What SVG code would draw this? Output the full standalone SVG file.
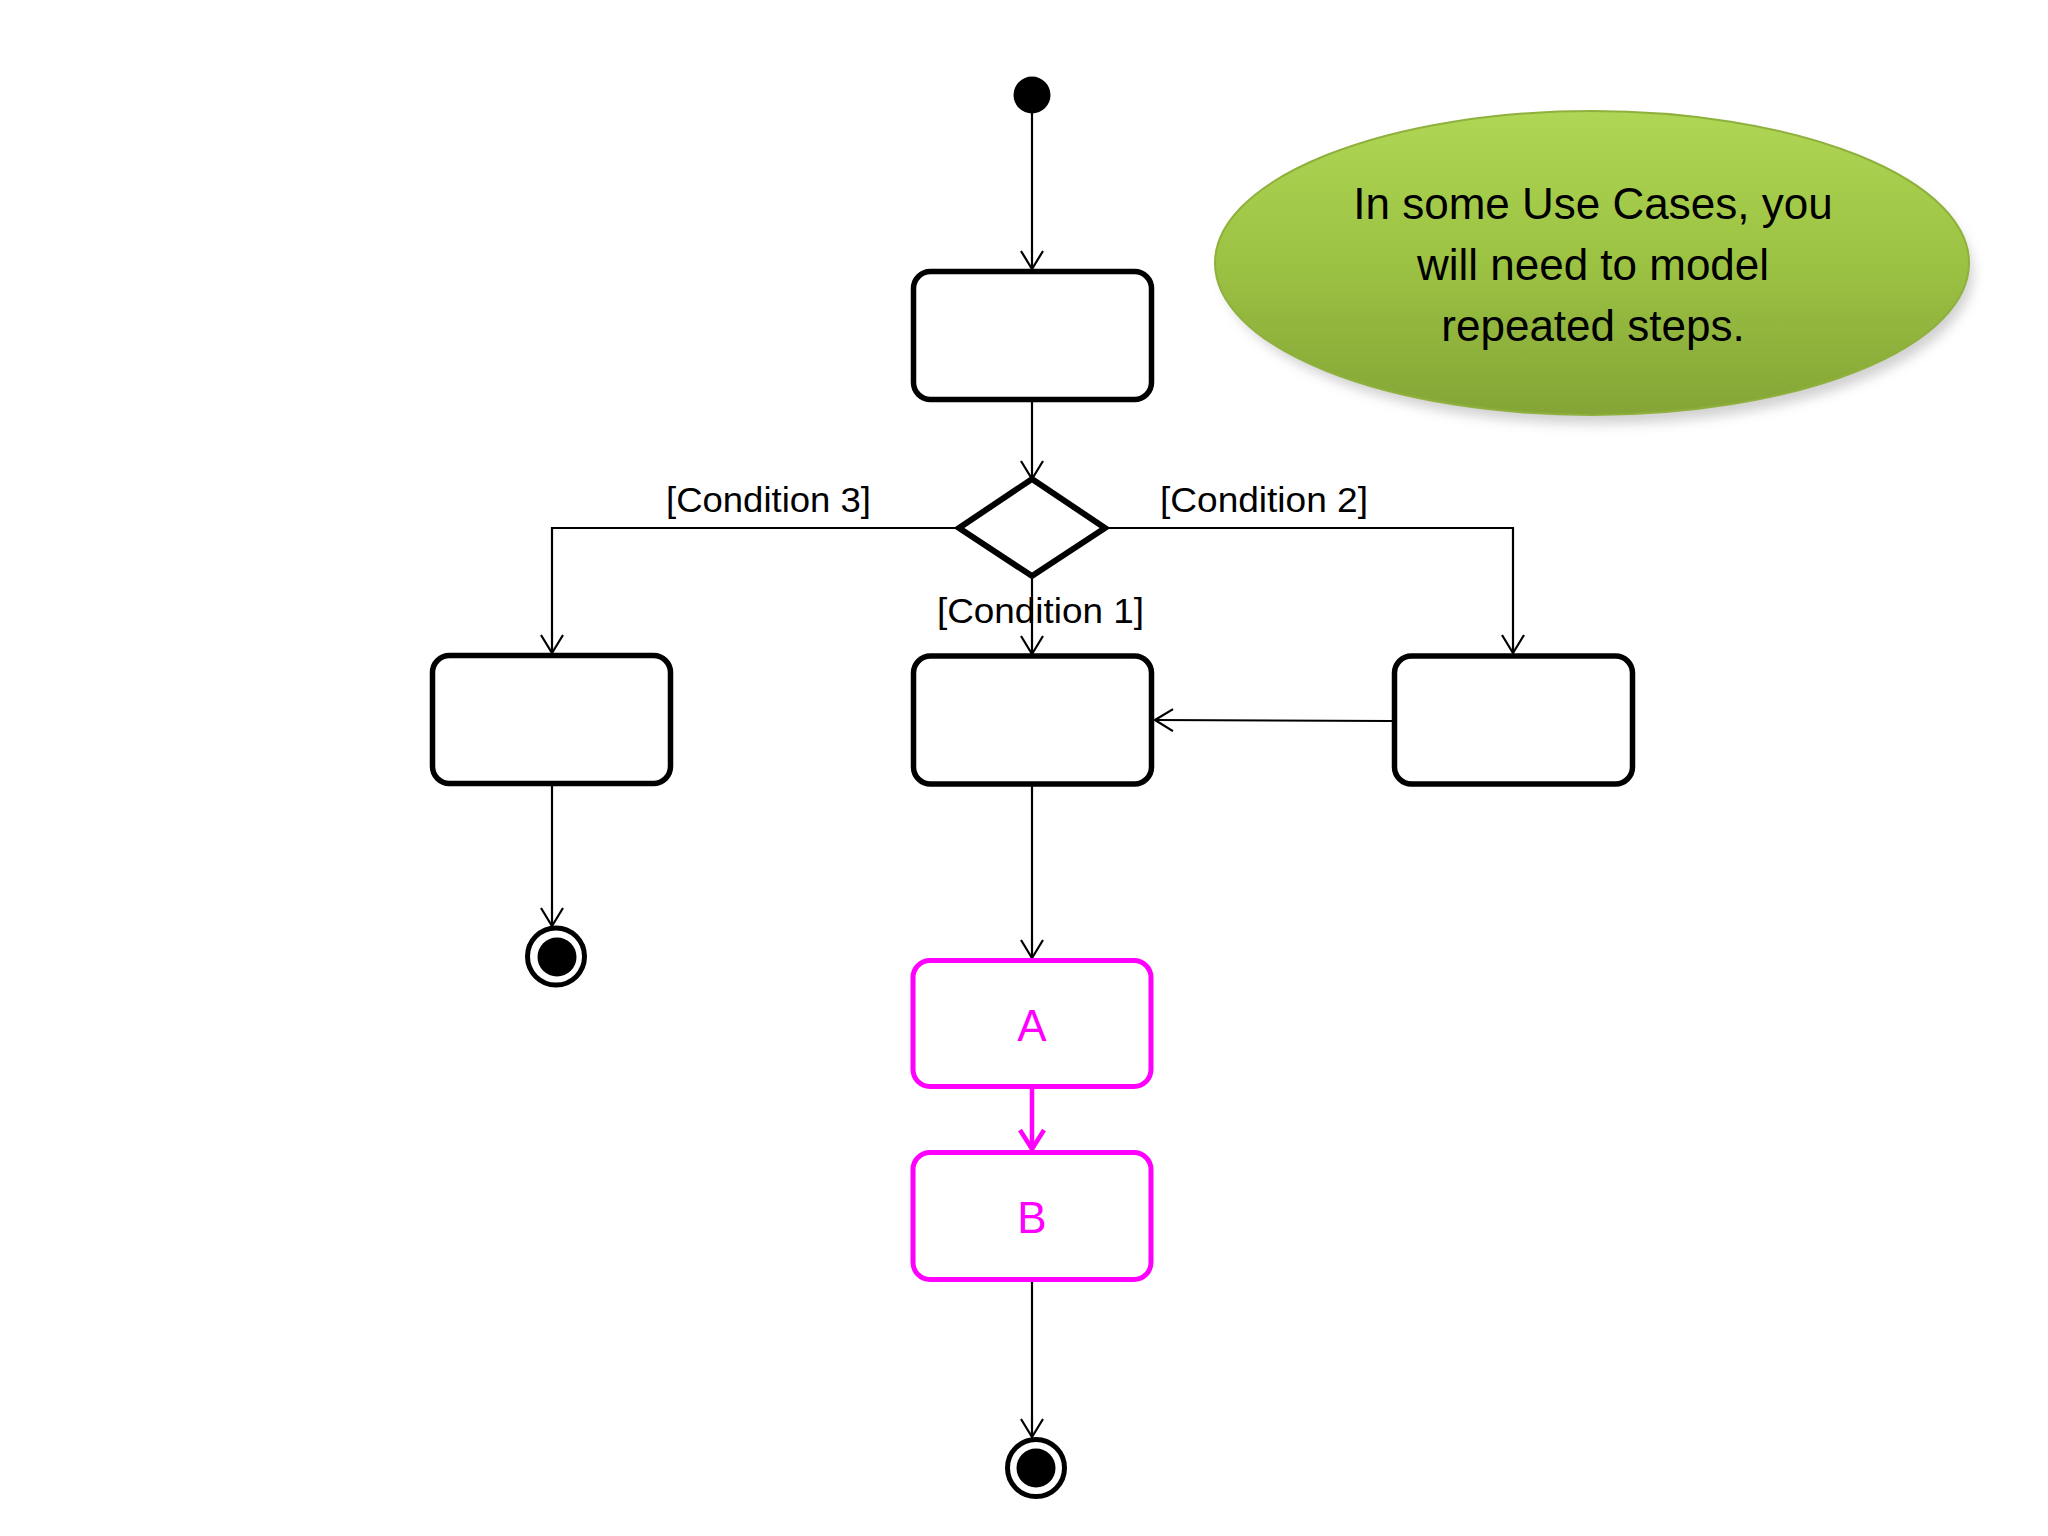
<svg xmlns="http://www.w3.org/2000/svg" width="2048" height="1536" viewBox="0 0 2048 1536">
  <style>
    .box { fill: #ffffff; stroke: #000000; stroke-width: 5.5; }
    .mbox { fill: #ffffff; stroke: #ff00ff; stroke-width: 5; }
    .edge { fill: none; stroke: #000000; stroke-width: 2.2; }
    .medge { fill: none; stroke: #ff00ff; stroke-width: 4.5; }
    .lbl { font-family: "Liberation Sans", Arial, sans-serif; font-size: 35px; fill: #000000; }
    .mlbl { font-family: "Liberation Sans", Arial, sans-serif; font-size: 44px; fill: #ff00ff; text-anchor: middle; }
    .note { font-family: "Liberation Sans", Arial, sans-serif; font-size: 44px; fill: #000000; text-anchor: middle; }
  </style>
  <defs>
    <marker id="arr" viewBox="0 0 20 24" refX="19" refY="12" markerWidth="20" markerHeight="24" markerUnits="userSpaceOnUse" orient="auto">
      <path d="M1,1 L19,12 L1,23" fill="none" stroke="#000000" stroke-width="2.2"/>
    </marker>
    <marker id="marr" viewBox="0 0 24 28" refX="22" refY="14" markerWidth="24" markerHeight="28" markerUnits="userSpaceOnUse" orient="auto">
      <path d="M2,2 L21,14 L2,26" fill="none" stroke="#ff00ff" stroke-width="4.5"/>
    </marker>
    <linearGradient id="green" x1="0" y1="0" x2="0" y2="1">
      <stop offset="0" stop-color="#b0d655"/>
      <stop offset="0.5" stop-color="#9cc243"/>
      <stop offset="1" stop-color="#84a536"/>
    </linearGradient>
    <filter id="shadow" x="-10%" y="-10%" width="120%" height="130%">
      <feGaussianBlur stdDeviation="6"/>
    </filter>
  </defs>

  <rect width="2048" height="1536" fill="#ffffff"/>

  <g id="connectors">
    <line class="edge" x1="1032" y1="113" x2="1032" y2="269" marker-end="url(#arr)"/>
    <line class="edge" x1="1032" y1="402" x2="1032" y2="479" marker-end="url(#arr)"/>
    <polyline class="edge" points="959,528 552,528 552,653" marker-end="url(#arr)"/>
    <polyline class="edge" points="1105,528 1513,528 1513,653" marker-end="url(#arr)"/>
    <line class="edge" x1="1032" y1="576" x2="1032" y2="654" marker-end="url(#arr)"/>
    <line class="edge" x1="1392" y1="721" x2="1155" y2="720" marker-end="url(#arr)"/>
    <line class="edge" x1="552" y1="786" x2="552" y2="926" marker-end="url(#arr)"/>
    <line class="edge" x1="1032" y1="786" x2="1032" y2="958" marker-end="url(#arr)"/>
    <line class="medge" x1="1032" y1="1089" x2="1032" y2="1150" marker-end="url(#marr)"/>
    <line class="edge" x1="1032" y1="1282" x2="1032" y2="1437" marker-end="url(#arr)"/>
    <text class="lbl" x="666" y="512" textLength="205" lengthAdjust="spacingAndGlyphs">[Condition 3]</text>
    <text class="lbl" x="1160" y="512" textLength="208" lengthAdjust="spacingAndGlyphs">[Condition 2]</text>
    <text class="lbl" x="937" y="623" textLength="207" lengthAdjust="spacingAndGlyphs">[Condition 1]</text>
  </g>

  <g id="start">
    <circle cx="1032" cy="95" r="18.5" fill="#000000"/>
  </g>
  <g id="action1">
    <rect class="box" x="913.5" y="271.5" width="238" height="128" rx="17"/>
  </g>
  <g id="decision">
    <polygon points="1032,479 1105,528 1032,576 959,528" fill="#ffffff" stroke="#000000" stroke-width="6"/>
  </g>
  <g id="action-left">
    <rect class="box" x="432.5" y="655.5" width="238" height="128" rx="17"/>
  </g>
  <g id="action-middle">
    <rect class="box" x="913.5" y="656" width="238" height="128" rx="17"/>
  </g>
  <g id="action-right">
    <rect class="box" x="1394.5" y="656" width="238" height="128" rx="17"/>
  </g>
  <g id="end-left">
    <circle cx="556" cy="956.5" r="28.5" fill="#ffffff" stroke="#000000" stroke-width="5"/>
    <circle cx="557" cy="957" r="19.5" fill="#000000"/>
  </g>
  <g id="actionA">
    <rect class="mbox" x="913" y="960.5" width="238" height="126" rx="17"/>
    <text class="mlbl" x="1032" y="1041">A</text>
  </g>
  <g id="actionB">
    <rect class="mbox" x="913" y="1152.5" width="238" height="127" rx="17"/>
    <text class="mlbl" x="1032" y="1233">B</text>
  </g>
  <g id="end-bottom">
    <circle cx="1036" cy="1468" r="28.5" fill="#ffffff" stroke="#000000" stroke-width="5"/>
    <circle cx="1036" cy="1468" r="19.5" fill="#000000"/>
  </g>

  <g id="note">
    <ellipse cx="1598" cy="273" rx="375" ry="151" fill="#9a9a9a" opacity="0.45" filter="url(#shadow)"/>
    <ellipse cx="1592" cy="263" rx="377" ry="152" fill="url(#green)" stroke="#8fb03c" stroke-width="2"/>
    <text class="note" x="1593" y="219">In some Use Cases, you</text>
    <text class="note" x="1593" y="280">will need to model</text>
    <text class="note" x="1593" y="341">repeated steps.</text>
  </g>
</svg>
